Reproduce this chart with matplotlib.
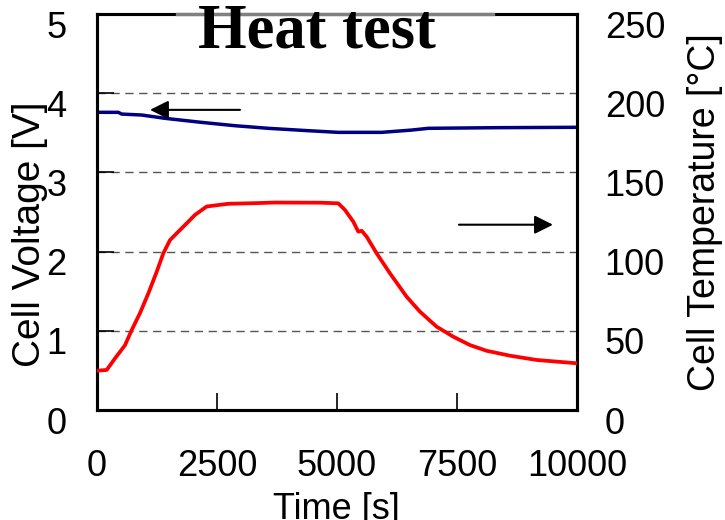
import matplotlib
matplotlib.use("Agg")
import matplotlib.pyplot as plt
import matplotlib.transforms as mtransforms
from matplotlib.lines import Line2D

plt.rcParams['font.family'] = ['Liberation Sans', 'DejaVu Sans']

# data
time_v = [0, 444, 514, 931, 1417, 2181, 2875, 3569, 4402, 5027, 5931, 6556, 6902, 8292, 10000]
voltage = [3.759, 3.759, 3.737, 3.725, 3.683, 3.632, 3.59, 3.557, 3.527, 3.506, 3.506,
           3.535, 3.557, 3.565, 3.57]

time_t = [0, 202, 375, 583, 723, 896, 1069, 1244, 1381, 1521, 1694, 1869, 2042, 2285,
          2735, 3292, 3708, 4646, 5027, 5167, 5340, 5444, 5514, 5619, 5827, 6104, 6452,
          6729, 7077, 7423, 7771, 8118, 8604, 9160, 10000]
temperature = [24.8, 25.3, 32.6, 40.9, 50.5, 61.2, 73.6, 87.3, 98.9, 107.3, 112.6, 117.9,
               123.2, 128.5, 130.2, 130.6, 131, 130.9, 130.5, 126.3, 118.9, 112.6, 113.2,
               109.4, 98.9, 86.3, 71.5, 62.1, 52.6, 46.3, 41, 37.4, 34.3, 31.6, 29.5]

x_ticks = [0, 2500, 5000, 7500, 10000]
v_ticks = [0, 1, 2, 3, 4, 5]
t_ticks = [0, 50, 100, 150, 200, 250]

fig = plt.figure(figsize=(7.25, 5.2), dpi=100)
ax = fig.add_axes([0.1338, 0.2115, 0.662, 0.7615])
ax2 = ax.twinx()

for y in [1, 2, 3, 4]:
    ax.axhline(y, color='#555555', lw=1.0, dashes=(6, 4), zorder=1)

ax.plot(time_v, voltage, color='#000080', lw=2.5, zorder=3, solid_joinstyle='round')
ax2.plot(time_t, temperature, color='#ff0000', lw=2.7, zorder=3, solid_joinstyle='round')

ax.set_xlim(0, 10000)
ax.set_ylim(0, 5)
ax2.set_ylim(0, 250)
ax.set_xticks(x_ticks)
ax.set_yticks(v_ticks)
ax2.set_yticks(t_ticks)

ax.tick_params(axis='x', direction='in', length=12, width=1.2, pad=28, labelsize=26)
ax.tick_params(axis='y', direction='in', length=12, width=1.2, pad=22, labelsize=26)
ax2.tick_params(axis='y', direction='in', length=0, pad=20, labelsize=26)

# tick labels sit a little below their ticks in the original
shift = mtransforms.ScaledTranslation(0, -0.1, fig.dpi_scale_trans)
for lab in ax.get_yticklabels() + ax2.get_yticklabels():
    lab.set_transform(lab.get_transform() + shift)

for a in (ax, ax2):
    for sp in a.spines.values():
        sp.set_linewidth(2.2)

# gray part of the top frame behind the title
ax2.add_line(Line2D([0.167, 0.825], [1, 1], transform=ax.transAxes, color='#808080',
                    lw=2.4, clip_on=False, zorder=10))

ax2.annotate('', xy=(1104, 3.79), xytext=(2979, 3.79), xycoords=ax.transData,
             textcoords=ax.transData,
             arrowprops=dict(arrowstyle='-|>', color='k', lw=1.5, mutation_scale=28,
                             shrinkA=0, shrinkB=0))
ax2.annotate('', xy=(9500, 2.34), xytext=(7541, 2.34), xycoords=ax.transData,
             textcoords=ax.transData,
             arrowprops=dict(arrowstyle='-|>', color='k', lw=1.5, mutation_scale=28,
                             shrinkA=0, shrinkB=0))

fig.text(0.437, 0.937, 'Heat test', family=['Liberation Serif', 'DejaVu Serif'],
         fontweight='bold', fontsize=45, ha='center', va='center', zorder=20)
fig.text(0.041, 0.55, 'Cell Voltage [V]', rotation=90, fontsize=28, ha='center', va='center')
fig.text(0.972, 0.592, 'Cell Temperature [°C]', rotation=90, fontsize=27,
         ha='center', va='center')
fig.text(0.464, 0.054, 'Time [s]', fontsize=26, ha='center', va='top')

fig.savefig('out.png', dpi=100)
